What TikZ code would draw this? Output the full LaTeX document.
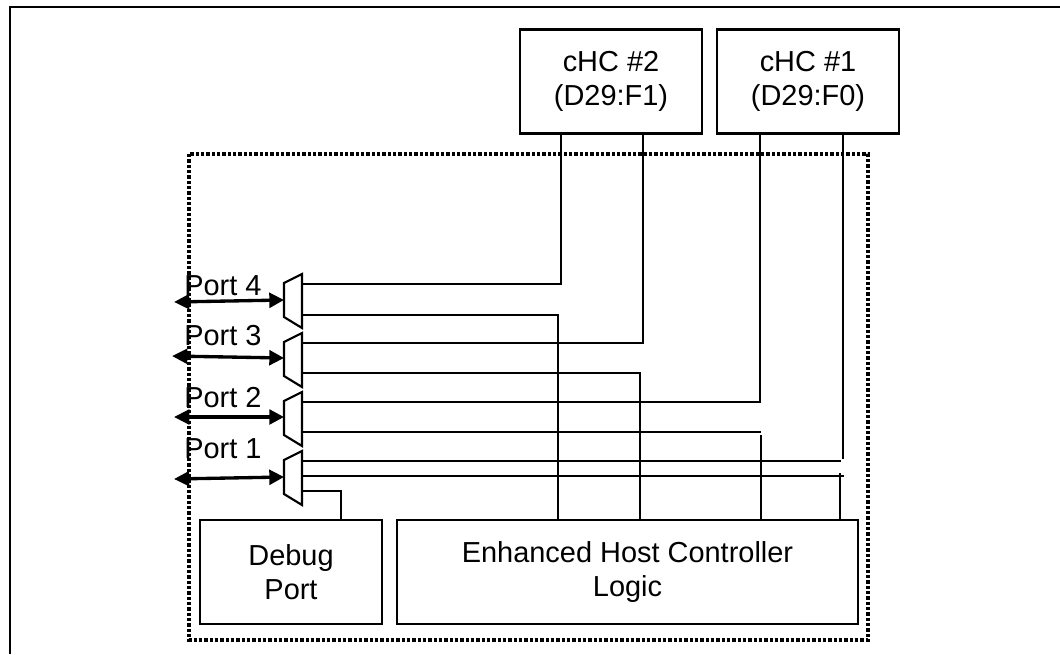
\documentclass[tikz,border=0pt]{standalone}
\usepackage{fontspec}
\setmainfont{Liberation Sans}
\usetikzlibrary{arrows.meta}
\tikzset{
 x=0.75pt,y=-0.75pt,
 wire/.style={line width=1.7pt,line cap=butt,line join=miter},
 frame/.style={line width=1.9pt},
 dotbox/.style={line width=2.4pt,dash pattern=on 2.6pt off 1.4pt},
 box/.style={draw,line width=1.7pt,inner sep=0pt,outer sep=0pt,anchor=center},
 boxtext/.style={inner sep=0pt,align=center,font=\fontsize{21.7}{25}\selectfont,yshift=0pt},
 muxshape/.style={draw,line width=1.6pt,line join=miter},
 portarrow/.style={line width=2.5pt,{Stealth[length=11.5pt,width=11pt,inset=0pt]}-{Stealth[length=11pt,width=11pt,inset=0pt]}},
 portlabel/.style={font=\fontsize{21.7}{25}\selectfont,inner sep=0pt,anchor=base west},
}
\begin{document}
\begin{tikzpicture}
\useasboundingbox (0,0) rectangle (1060,654);
% outer frame, open at the right and bottom
\draw[frame] (10,654) -- (10,7) -- (1060,7);
% dotted block
\draw[dotbox] (189,154) rectangle (868,640);
% boxes
\node[box,minimum width=136.5pt,minimum height=78pt,label={[boxtext]center:cHC \#2\\(D29:F1)}] (hc2) at (611,81.5) {};
\node[box,minimum width=136pt,minimum height=78pt,label={[boxtext]center:cHC \#1\\(D29:F0)}] (hc1) at (808,81.5) {};
\node[box,minimum width=136.5pt,minimum height=78pt,label={[boxtext]center:Debug\\Port}] (debug) at (291,572) {};
\node[box,minimum width=345.75pt,minimum height=78pt,label={[boxtext]center:Enhanced Host Controller\\Logic}] (ehc) at (627.5,572) {};
% multiplexers
\foreach \n/\t in {4/274,3/333,2/392,1/451}{
  \coordinate (m\n a) at (302,\t);
  \coordinate (m\n b) at (284,\t+9);
  \coordinate (m\n c) at (284,\t+43);
  \coordinate (m\n d) at (302,\t+54);
  \draw[muxshape] (m\n a) -- (m\n b) -- (m\n c) -- (m\n d) -- cycle;
}
% port arrows
\coordinate (p4) at (174,302); \coordinate (q4) at (284,300);
\coordinate (p3) at (172,356); \coordinate (q3) at (284,358);
\coordinate (p2) at (174,417); \coordinate (q2) at (284,417);
\coordinate (p1) at (174,479); \coordinate (q1) at (284,477);
\draw[portarrow] (p4) -- (q4);
\draw[portarrow] (p3) -- (q3);
\draw[portarrow] (p2) -- (q2);
\draw[portarrow] (p1) -- (q1);
% port labels
\node[portlabel] (l4) at (184,295) {Port 4};
\node[portlabel] (l3) at (184,345) {Port 3};
\node[portlabel] (l2) at (184,407) {Port 2};
\node[portlabel] (l1) at (184,458) {Port 1};
% wiring to the companion controllers
\coordinate (a4) at (303,284); \coordinate (a3) at (303,343); \coordinate (a2) at (303,402); \coordinate (a1) at (303,461);
\draw[wire] (a4) -- (561,284) -- (hc2.south -| 561,0);
\draw[wire] (a3) -- (643,343) -- (hc2.south -| 643,0);
\draw[wire] (a2) -- (760,402) -- (hc1.south -| 760,0);
\draw[wire] (a1) -- (841,461);
\draw[wire] (843,459) -- (hc1.south -| 843,0);
% wiring to the enhanced host controller
\coordinate (b4) at (303,315); \coordinate (b3) at (303,373); \coordinate (b2) at (303,432); \coordinate (b1) at (303,476);
\draw[wire] (b4) -- (558,315) -- (ehc.north -| 558,0);
\draw[wire] (b3) -- (640,373) -- (ehc.north -| 640,0);
\draw[wire] (b2) -- (761,432);
\draw[wire] (761,435) -- (ehc.north -| 761,0);
\draw[wire] (b1) -- (844,476);
\draw[wire] (840,473) -- (ehc.north -| 840,0);
% debug port wire
\coordinate (dbg) at (303,491);
\draw[wire] (dbg) -- (341,491) -- (debug.north -| 341,0);
\end{tikzpicture}
\end{document}
